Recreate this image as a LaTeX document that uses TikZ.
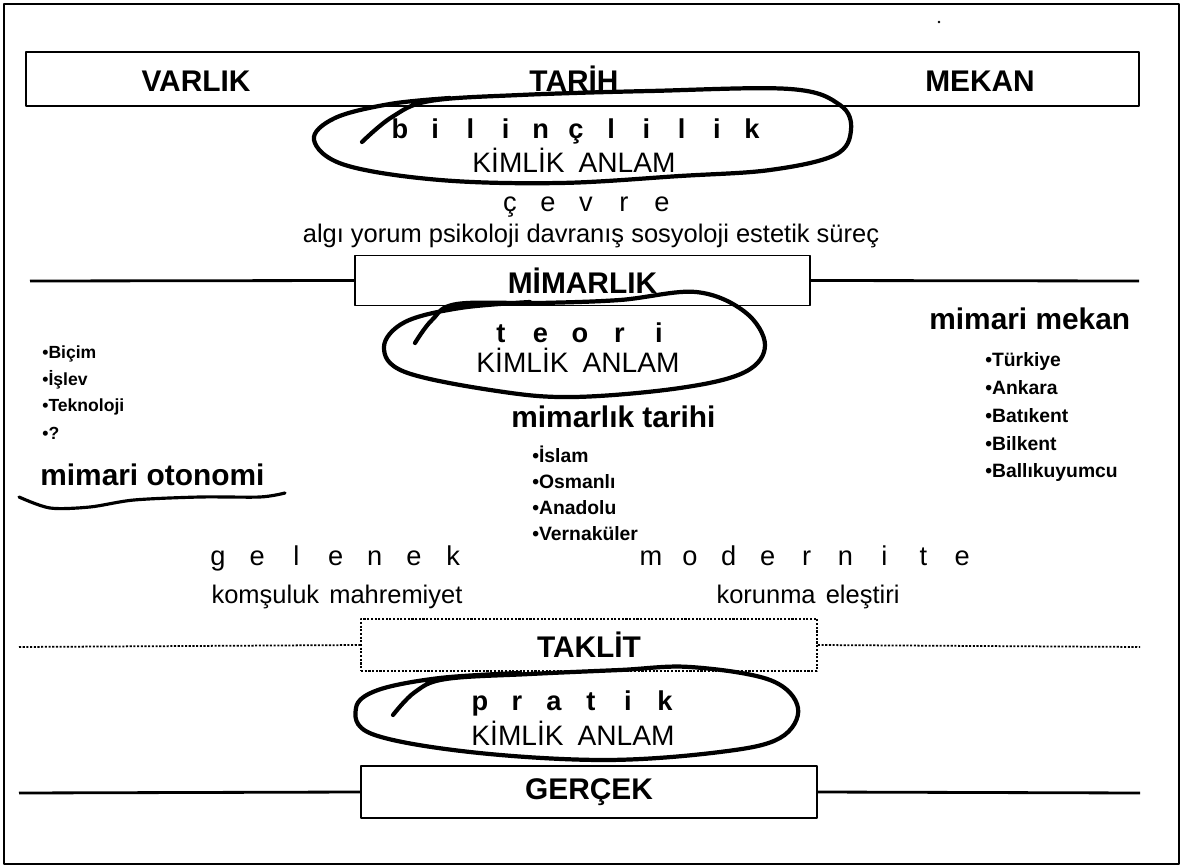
\documentclass[tikz,border=0pt]{standalone}
\usepackage{fontspec}
\setmainfont{Liberation Sans}
\begin{document}
\begin{tikzpicture}[x=0.02cm, y=-0.02cm, line join=round,
	baslik/.style={font=\fontsize{17}{20}\selectfont\bfseries, anchor=base, inner sep=0pt},
	kutu/.style={draw, line width=1.1pt, minimum width=9.1cm, minimum height=1cm, inner sep=0pt, font=\fontsize{17}{20}\selectfont\bfseries},
	harf/.style={font=\fontsize{15.5}{18}\selectfont, anchor=base, inner sep=0pt},
	kalinharf/.style={font=\fontsize{15.5}{18}\selectfont\bfseries, anchor=base, inner sep=0pt},
	yazi/.style={font=\fontsize{14.5}{17}\selectfont, anchor=base, inner sep=0pt},
	madde/.style={font=\fontsize{11}{13}\selectfont\bfseries, anchor=base west, inner sep=0pt},
	cizgi/.style={line width=1.6pt},
	noktali/.style={line width=1pt, dash pattern=on 1.2pt off 0.9pt},
	halka/.style={line width=2.4pt, line cap=round}]
	\useasboundingbox (0,0) rectangle (1184,868);
	
	% cerceve
	\draw[line width=0.8pt] (4,4) rectangle (1179,864);
	\fill (939,22) circle (0.8pt);
	
	% ust kutu
	\node[draw, line width=1.3pt, minimum width=22.26cm, minimum height=1.08cm] (ust) at (582.5,79) {};
	\node[baslik] (varlik) at (196,92) {VARLIK};
	\node[baslik] (tarih) at (574,92) {TARİH};
	\node[baslik] (mekan) at (980,92) {MEKAN};
	
	% bilinclilik
	\foreach \h [count=\i] in {b,i,l,i,n,ç,l,i,l,i,k}
		\node[kalinharf] (bil\i) at ({400+(\i-1)*35.2},139) {\h};
	\node[yazi, font=\fontsize{16}{19}\selectfont] (kim1) at (574,173) {KİMLİK\hspace{0.5em}ANLAM};
	\draw[halka] plot[smooth, tension=0.6] coordinates {(362,142) (392,117) (430,101) (520,95) (650,91) (790,89) (840,105) (851,130) (835,155) (770,170) (680,176) (560,183) (440,180) (345,165) (314,140) (335,118) (390,104) (450,98)};
	\foreach \h [count=\i] in {ç,e,v,r,e}
		\node[harf] (cev\i) at ({510+(\i-1)*38},212) {\h};
	\node[yazi] (algi) at (591,243) {algı yorum psikoloji davranış sosyoloji estetik süreç};
	
	% mimarlik
	\node[kutu] (mimarlik) at (582.5,280.5) {MİMARLIK};
	\coordinate (mimsol) at (30,281);
	\coordinate (mimsag) at (1139,281);
	\draw[cizgi] (mimsol) -- (mimarlik.west);
	\draw[cizgi] (mimarlik.east) -- (mimsag);
	
	% teori
	\foreach \h [count=\i] in {t,e,o,r,i}
		\node[kalinharf] (teo\i) at ({501+(\i-1)*39.5},343) {\h};
	\node[yazi, font=\fontsize{16}{19}\selectfont] (kim2) at (578,373) {KİMLİK\hspace{0.5em}ANLAM};
	\draw[halka] plot[smooth, tension=0.6] coordinates {(415,343) (432,320) (457,304) (540,303) (620,300) (696,292) (745,312) (765,345) (745,372) (680,388) (574,397) (497,391) (405,372) (384,347) (405,322) (460,308) (530,302)};
	
	% sol liste
	\foreach \m [count=\i] in {Biçim,İşlev,Teknoloji,?}
		\node[madde, font=\fontsize{10}{12}\selectfont\bfseries] (sol\i) at (42,{358+(\i-1)*27}) {•\m};
	\node[baslik, anchor=base west] (otonomi) at (40,485) {mimari otonomi};
	\draw[line width=1.8pt, line cap=round] plot[smooth] coordinates {(19,497) (50,508) (90,507) (134,500) (200,497) (260,497) (285,493)};
	
	% orta liste
	\node[baslik, anchor=base west] (mtarih) at (511,427) {mimarlık tarihi};
	\foreach \m [count=\i] in {İslam,Osmanlı,Anadolu,Vernaküler}
		\node[madde] (orta\i) at (532,{462+(\i-1)*26}) {•\m};
	
	% sag liste
	\node[baslik, anchor=base west] (mmekan) at (929,330) {mimari mekan};
	\foreach \m [count=\i] in {Türkiye,Ankara,Batıkent,Bilkent,Ballıkuyumcu}
		\node[madde] (sag\i) at (985,{367+(\i-1)*27.7}) {•\m};
	
	% gelenek / modernite
	\foreach \h [count=\i] in {g,e,l,e,n,e,k}
		\node[harf] (gel\i) at ({218+(\i-1)*39.2},565) {\h};
	\foreach \h [count=\i] in {m,o,d,e,r,n,i,t,e}
		\node[harf] (mod\i) at ({651+(\i-1)*38.9},565) {\h};
	\node[yazi] (komsu) at (337,603) {komşuluk\hspace{0.4em}mahremiyet};
	\node[yazi] (koru) at (808,603) {korunma\hspace{0.4em}eleştiri};
	
	% taklit
	\node[kutu, noktali, minimum width=9.12cm, minimum height=1.04cm] (taklit) at (589,645) {TAKLİT};
	\coordinate (taksol) at (19,647);
	\coordinate (taksag) at (1140,647);
	\draw[noktali] (taksol) -- (taklit.west);
	\draw[noktali] (taklit.east) -- (taksag);
	
	% pratik
	\foreach \h [count=\i] in {p,r,a,t,i,k}
		\node[kalinharf] (pra\i) at ({480+(\i-1)*37},710) {\h};
	\node[yazi, font=\fontsize{16}{19}\selectfont] (kim3) at (573,745) {KİMLİK\hspace{0.5em}ANLAM};
	\draw[halka] plot[smooth, tension=0.6] coordinates {(393,715) (415,692) (446,679) (530,674) (620,670) (690,667) (770,680) (798,708) (780,738) (720,752) (604,760) (470,752) (372,734) (356,708) (378,690) (440,678) (520,673)};
	
	% gercek
	\node[kutu, minimum width=9.12cm, minimum height=1.04cm] (gercek) at (589,792) {GERÇEK};
	\coordinate (gersol) at (19,793);
	\coordinate (gersag) at (1140,793);
	\draw[cizgi] (gersol) -- (gercek.west);
	\draw[cizgi] (gercek.east) -- (gersag);
\end{tikzpicture}
\end{document}
